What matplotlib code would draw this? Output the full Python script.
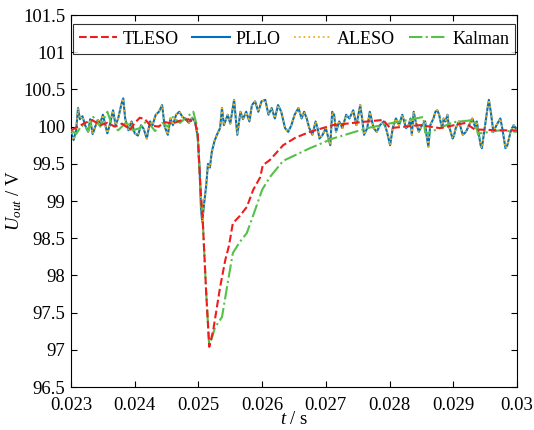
import matplotlib
matplotlib.use("Agg")
import matplotlib.pyplot as plt
from matplotlib.ticker import FuncFormatter

plt.rcParams['font.family'] = ['Liberation Serif', 'DejaVu Serif']
plt.rcParams['mathtext.fontset'] = 'custom'
plt.rcParams['mathtext.rm'] = 'Liberation Serif'
plt.rcParams['mathtext.it'] = 'Liberation Serif:italic'

# PLLO (ALESO lies on top of it)
t_pllo = [0.02300, 0.02304, 0.02308, 0.02311, 0.02314, 0.02318, 0.02322, 0.02327, 0.02330, 0.02334,
          0.02338, 0.02342, 0.02346, 0.02350, 0.02354, 0.02357, 0.02361, 0.02366, 0.02370, 0.02374,
          0.02379, 0.02382, 0.02385, 0.02390, 0.02395, 0.02400, 0.02405, 0.02410, 0.02414, 0.02419,
          0.02424, 0.02428, 0.02433, 0.02438, 0.02443, 0.02447, 0.02452, 0.02456, 0.02460, 0.02465,
          0.02470, 0.02475, 0.02480, 0.02485, 0.02490, 0.02495, 0.02499, 0.02502, 0.02504, 0.02506,
          0.02509, 0.02512, 0.02515, 0.02518, 0.02521, 0.02525, 0.02529, 0.02534, 0.02537, 0.02540,
          0.02546, 0.02550, 0.02556, 0.02561, 0.02566, 0.02570, 0.02575, 0.02580, 0.02584, 0.02589,
          0.02594, 0.02599, 0.02605, 0.02610, 0.02615, 0.02620, 0.02625, 0.02630, 0.02636, 0.02641,
          0.02646, 0.02651, 0.02657, 0.02662, 0.02666, 0.02670, 0.02674, 0.02679, 0.02684, 0.02687,
          0.02690, 0.02695, 0.02700, 0.02707, 0.02710, 0.02713, 0.02716, 0.02721, 0.02726, 0.02732,
          0.02737, 0.02743, 0.02748, 0.02754, 0.02757, 0.02760, 0.02765, 0.02769, 0.02775, 0.02780,
          0.02785, 0.02791, 0.02796, 0.02801, 0.02805, 0.02810, 0.02815, 0.02820, 0.02826, 0.02830,
          0.02833, 0.02835, 0.02838, 0.02841, 0.02846, 0.02851, 0.02856, 0.02858, 0.02861, 0.02864,
          0.02869, 0.02872, 0.02875, 0.02878, 0.02880, 0.02883, 0.02885, 0.02888, 0.02891, 0.02893,
          0.02899, 0.02901, 0.02904, 0.02909, 0.02915, 0.02920, 0.02925, 0.02930, 0.02935, 0.02937,
          0.02943, 0.02945, 0.02950, 0.02953, 0.02956, 0.02959, 0.02963, 0.02968, 0.02974, 0.02977,
          0.02982, 0.02985, 0.02990, 0.02995, 0.02998, 0.03000]
v_pllo = [99.92, 99.82, 99.95, 100.25, 100.10, 100.14, 100.02, 99.93, 100.10, 99.90,
          100.00, 100.09, 100.05, 100.16, 100.02, 99.91, 100.03, 100.22, 100.02, 100.11,
          100.30, 100.38, 100.11, 99.95, 100.07, 99.91, 99.88, 100.02, 99.97, 99.84,
          100.07, 100.02, 100.16, 100.20, 100.29, 100.00, 99.89, 100.11, 100.02, 100.16,
          100.20, 100.13, 100.10, 100.05, 100.12, 100.06, 99.85, 99.40, 98.90, 98.72,
          98.97, 99.19, 99.50, 99.45, 99.66, 99.80, 99.89, 99.98, 100.25, 100.02,
          100.16, 100.04, 100.36, 99.89, 100.20, 100.10, 100.20, 100.07, 100.29, 100.34,
          100.20, 100.34, 100.36, 100.16, 100.25, 100.11, 100.29, 100.20, 99.98, 99.93,
          100.02, 100.16, 100.25, 100.11, 100.20, 100.11, 99.98, 99.89, 100.07, 99.98,
          99.84, 99.89, 99.98, 99.75, 100.20, 100.16, 99.93, 100.07, 99.98, 100.16,
          100.11, 100.22, 100.02, 100.29, 100.11, 99.89, 99.98, 100.20, 99.98, 99.93,
          100.02, 100.07, 99.93, 99.75, 99.98, 100.11, 100.02, 100.16, 99.98, 100.02,
          100.11, 99.89, 100.20, 100.07, 99.93, 100.02, 100.07, 99.89, 99.73, 100.02,
          100.11, 100.20, 100.22, 100.16, 100.07, 99.98, 100.11, 100.07, 100.16, 100.02,
          99.84, 99.87, 99.98, 100.07, 99.89, 99.93, 100.02, 100.11, 99.98, 100.07,
          99.75, 99.71, 100.02, 100.20, 100.36, 100.20, 99.93, 100.02, 100.11, 99.98,
          99.71, 99.75, 99.93, 100.02, 99.98, 99.98]
t_aleso = t_pllo
v_aleso = v_pllo

t_tleso = [0.02300, 0.02311, 0.02322, 0.02333, 0.02346, 0.02357, 0.02369, 0.02380, 0.02393, 0.02400,
           0.02408, 0.02416, 0.02424, 0.02437, 0.02448, 0.02459, 0.02471, 0.02484, 0.02495, 0.02499,
           0.02503, 0.02507, 0.02512, 0.02517, 0.02523, 0.02534, 0.02542, 0.02548, 0.02554, 0.02565,
           0.02576, 0.02586, 0.02597, 0.02601, 0.02612, 0.02633, 0.02652, 0.02675, 0.02711, 0.02754,
           0.02790, 0.02801, 0.02848, 0.02879, 0.02919, 0.02934, 0.02942, 0.02973, 0.03000]
v_tleso = [99.95, 100.00, 100.05, 100.09, 100.02, 100.05, 100.00, 100.04, 99.96, 100.05,
           100.12, 100.10, 100.02, 100.00, 100.06, 100.04, 100.08, 100.10, 100.05, 99.90,
           99.20, 98.70, 97.80, 97.04, 97.25, 97.84, 98.20, 98.40, 98.70, 98.80,
           98.92, 99.15, 99.32, 99.48, 99.55, 99.75, 99.85, 99.93, 100.02, 100.06,
           100.09, 99.98, 100.02, 99.98, 100.05, 99.96, 99.96, 99.95, 99.95]

t_kalman = [0.02300, 0.02308, 0.02317, 0.02327, 0.02335, 0.02346, 0.02357, 0.02364, 0.02374, 0.02388,
            0.02397, 0.02408, 0.02419, 0.02432, 0.02443, 0.02452, 0.02460, 0.02471, 0.02482, 0.02492,
            0.02498, 0.02503, 0.02507, 0.02512, 0.02517, 0.02526, 0.02537, 0.02546, 0.02554, 0.02565,
            0.02576, 0.02589, 0.02600, 0.02612, 0.02633, 0.02675, 0.02711, 0.02765, 0.02805, 0.02853,
            0.02856, 0.02860, 0.02900, 0.02934, 0.02939, 0.02942, 0.02973, 0.03000]
v_kalman = [99.95, 99.90, 100.02, 99.95, 100.13, 100.00, 100.20, 100.03, 99.95, 100.07,
            99.95, 99.98, 100.08, 99.94, 100.05, 100.00, 100.13, 100.05, 100.13, 100.20,
            100.00, 99.20, 98.70, 97.80, 97.04, 97.30, 97.44, 97.90, 98.30, 98.45,
            98.57, 98.88, 99.15, 99.32, 99.54, 99.71, 99.84, 99.98, 100.05, 100.13,
            99.92, 99.91, 100.06, 100.09, 99.89, 99.91, 99.95, 99.93]

fig = plt.figure(figsize=(5.34, 4.30), dpi=100)
ax = fig.add_axes([0.133, 0.1, 0.835, 0.865])

l_pllo, = ax.plot(t_pllo, v_pllo, color='#0072BD', lw=1.5, ls='-', label='PLLO', zorder=2)
l_aleso, = ax.plot(t_aleso, v_aleso, color='#EDB120', lw=1.3, ls=':', label='ALESO', zorder=3)
l_kal, = ax.plot(t_kalman, v_kalman, color='#55C04A', lw=1.5, ls='-.', label='Kalman', zorder=4)
l_tl, = ax.plot(t_tleso, v_tleso, color='#EE1C1C', lw=1.5, ls='--', label='TLESO', zorder=5)

ax.set_xlim(0.023, 0.03)
ax.set_ylim(96.5, 101.5)
ax.set_xticks([0.023, 0.024, 0.025, 0.026, 0.027, 0.028, 0.029, 0.03])
ax.set_yticks([96.5, 97, 97.5, 98, 98.5, 99, 99.5, 100, 100.5, 101, 101.5])
ax.xaxis.set_major_formatter(FuncFormatter(lambda v, p: '%g' % round(v, 4)))
ax.yaxis.set_major_formatter(FuncFormatter(lambda v, p: '%g' % v))
ax.tick_params(direction='in', top=True, right=True, labelsize=13.5, length=4.5, width=0.8)
ax.tick_params(axis='x', pad=7)
ax.tick_params(axis='y', pad=4)
for s in ax.spines.values():
    s.set_linewidth(0.8)

ax.set_xlabel(r'$t$ / s', fontsize=13.5, labelpad=-2)
ax.set_ylabel(r'$U_{out}$ / V', fontsize=13.5)
ax.yaxis.set_label_coords(-0.105, 0.5)

leg = ax.legend(handles=[l_tl, l_pllo, l_aleso, l_kal], ncol=4, loc='upper center',
                bbox_to_anchor=(0.5, 0.985), fontsize=13, frameon=True, fancybox=False,
                edgecolor='black', handlelength=2.1, handletextpad=0.3, columnspacing=0.75,
                borderpad=0.35, borderaxespad=0.2)
leg.get_frame().set_linewidth(0.8)

fig.savefig('out.png', dpi=100)
